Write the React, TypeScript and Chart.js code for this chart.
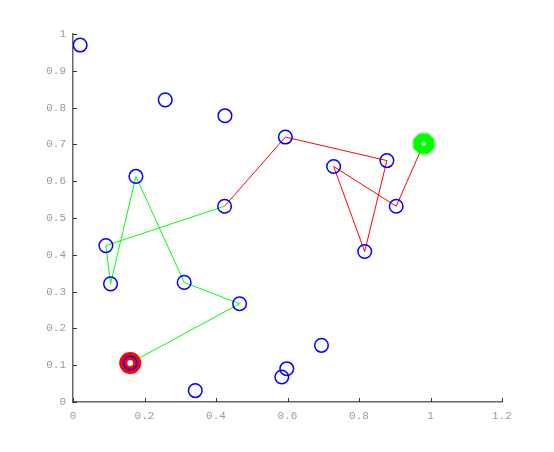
import React, { useEffect, useRef } from "react";
import { Chart, registerables } from "chart.js";

Chart.register(...registerables);

// All sample points (blue open circles)
const pointsX = [0.02, 0.258, 0.425, 0.594, 0.729, 0.878, 0.904, 0.816, 0.176, 0.424, 0.092, 0.105, 0.311, 0.466, 0.16, 0.342, 0.584, 0.598, 0.695];
const pointsY = [0.97, 0.821, 0.778, 0.72, 0.64, 0.656, 0.532, 0.409, 0.613, 0.532, 0.425, 0.321, 0.325, 0.267, 0.106, 0.031, 0.068, 0.0905, 0.154];

// Green path (from start)
const greenPathX = [0.16, 0.466, 0.311, 0.176, 0.105, 0.092, 0.424];
const greenPathY = [0.106, 0.267, 0.325, 0.613, 0.321, 0.425, 0.532];

// Red path (to goal)
const redPathX = [0.424, 0.594, 0.878, 0.816, 0.729, 0.904, 0.981];
const redPathY = [0.532, 0.72, 0.656, 0.409, 0.64, 0.532, 0.702];

// Start and goal markers
const startPoint = [0.16, 0.106];
const goalPoint = [0.981, 0.702];

// Axis ticks
const xTicks = [0, 0.2, 0.4, 0.6, 0.8, 1, 1.2];
const yTicks = [0, 0.1, 0.2, 0.3, 0.4, 0.5, 0.6, 0.7, 0.8, 0.9, 1];

const toXY = (xs: number[], ys: number[]) => xs.map((x, i) => ({ x, y: ys[i] }));

function makeOctagon(): HTMLCanvasElement {
  const c = document.createElement("canvas");
  c.width = 24;
  c.height = 24;
  const ctx = c.getContext("2d")!;
  const r = 11.5;
  ctx.beginPath();
  for (let i = 0; i < 8; i++) {
    const a = Math.PI / 8 + (i * Math.PI) / 4;
    const px = 12 + r * Math.cos(a);
    const py = 12 + r * Math.sin(a);
    if (i === 0) ctx.moveTo(px, py);
    else ctx.lineTo(px, py);
  }
  ctx.closePath();
  ctx.fillStyle = "#00ff00";
  ctx.fill();
  ctx.beginPath();
  ctx.arc(12, 12, 2, 0, Math.PI * 2);
  ctx.fillStyle = "#ffffff";
  ctx.fill();
  return c;
}

const inwardTicks = {
  id: "inwardTicks",
  afterDraw(chart: any) {
    const ctx = chart.ctx;
    const xs = chart.scales.x;
    const ys = chart.scales.y;
    const area = chart.chartArea;
    ctx.save();
    ctx.strokeStyle = "#333";
    ctx.lineWidth = 1;
    ctx.beginPath();
    xTicks.forEach((v) => {
      const px = Math.round(xs.getPixelForValue(v)) + 0.5;
      ctx.moveTo(px, area.bottom);
      ctx.lineTo(px, area.bottom - 4);
    });
    yTicks.forEach((v) => {
      const py = Math.round(ys.getPixelForValue(v)) + 0.5;
      ctx.moveTo(area.left, py);
      ctx.lineTo(area.left + 4, py);
    });
    ctx.stroke();
    ctx.restore();
  },
};

export default function App() {
  const ref = useRef<HTMLCanvasElement>(null);

  useEffect(() => {
    if (!ref.current) return;
    const octagon = makeOctagon();
    const tickFont = { family: "Liberation Mono", size: 11 };
    const chart = new Chart(ref.current, {
      type: "scatter",
      data: {
        datasets: [
          {
            data: toXY(greenPathX, greenPathY),
            showLine: true,
            borderColor: "#00ff00",
            borderWidth: 1,
            pointRadius: 0,
            order: 6,
          },
          {
            data: toXY(redPathX, redPathY),
            showLine: true,
            borderColor: "#ff0000",
            borderWidth: 1,
            pointRadius: 0,
            order: 5,
          },
          {
            data: [{ x: startPoint[0], y: startPoint[1] }],
            pointRadius: 7,
            borderWidth: 8,
            borderColor: "#ff0000",
            backgroundColor: "#ffffff",
            order: 4,
          },
          {
            data: [{ x: goalPoint[0], y: goalPoint[1] }],
            pointStyle: octagon as any,
            pointRadius: 12,
            order: 3,
          },
          {
            data: toXY(pointsX, pointsY),
            pointRadius: 6.8,
            borderWidth: 1.5,
            borderColor: "#0000ff",
            backgroundColor: "rgba(0,0,0,0)",
            order: 2,
          },
        ],
      },
      options: {
        responsive: false,
        animation: false,
        events: [],
        layout: { padding: { left: 0, top: 34, right: 52, bottom: 0 } },
        plugins: { legend: { display: false }, tooltip: { enabled: false } },
        scales: {
          x: {
            type: "linear",
            min: 0,
            max: 1.2,
            afterFit: (s: any) => {
              s.height = 50;
            },
            afterBuildTicks: (s: any) => {
              s.ticks = xTicks.map((v) => ({ value: v }));
            },
            grid: { display: false, drawTicks: false },
            border: { display: true, color: "#666", width: 1.5 },
            ticks: {
              font: tickFont,
              color: "#9a9a9a",
              padding: 7,
              maxRotation: 0,
              autoSkip: false,
              callback: (v: any) => String(Math.round(Number(v) * 10) / 10),
            },
          },
          y: {
            type: "linear",
            min: 0,
            max: 1,
            afterFit: (s: any) => {
              s.width = 73;
            },
            afterBuildTicks: (s: any) => {
              s.ticks = yTicks.map((v) => ({ value: v }));
            },
            grid: { display: false, drawTicks: false },
            border: { display: true, color: "#666", width: 1.5 },
            ticks: {
              font: tickFont,
              color: "#9a9a9a",
              padding: 7,
              autoSkip: false,
              callback: (v: any) => String(Math.round(Number(v) * 10) / 10),
            },
          },
        },
      },
      plugins: [inwardTicks],
    });
    return () => chart.destroy();
  }, []);

  return (
    <div style={{ position: "absolute", left: 0, top: 0, width: 554, height: 452, background: "#fff" }}>
      <canvas ref={ref} width={554} height={452} />
    </div>
  );
}
